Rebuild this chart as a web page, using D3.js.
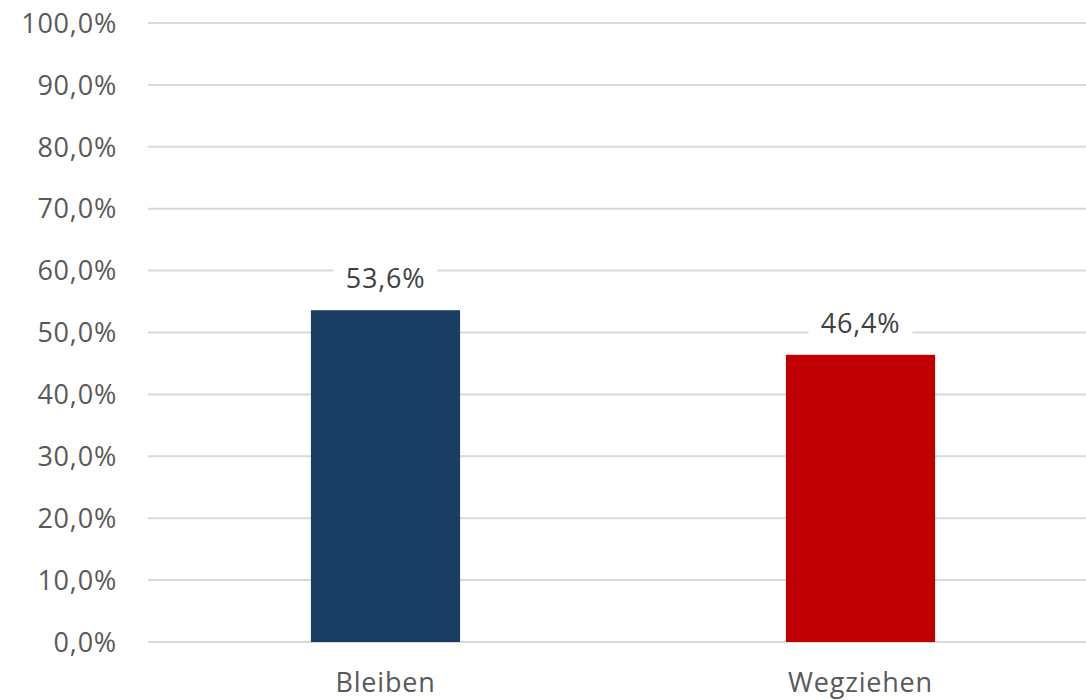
<!DOCTYPE html>
<html>
<head>
<meta charset="utf-8">
<script src="https://cdn.jsdelivr.net/npm/d3@7"></script>
<style>
  body { margin: 0; background: #fff; }
  svg text { font-family: "Open Sans", "Liberation Sans", Arial, sans-serif; letter-spacing: 0.8px; }
</style>
</head>
<body>
<svg id="chart"></svg>
<script>
var categories = ["Bleiben", "Wegziehen"];
var values = [53.6, 46.4];
var barColors = ["#193c62", "#c00000"];
var yTicks = [0, 10, 20, 30, 40, 50, 60, 70, 80, 90, 100];

var width = 1086, height = 700;
var margin = {top: 23, right: -12, bottom: 58, left: 148};

var svg = d3.select("#chart")
  .attr("width", width)
  .attr("height", height);

var fmt = function(v) { return d3.format(".1f")(v).replace(".", ","); };

var x = d3.scaleBand()
  .domain(categories)
  .range([margin.left, width - margin.right])
  .paddingInner(0.686)
  .paddingOuter(0.343);

var y = d3.scaleLinear()
  .domain([0, 100])
  .range([height - margin.bottom, margin.top]);

// gridlines
svg.append("g")
  .selectAll("line")
  .data(yTicks)
  .enter().append("line")
    .attr("x1", margin.left)
    .attr("x2", width)
    .attr("y1", function(d) { return y(d); })
    .attr("y2", function(d) { return y(d); })
    .attr("stroke", "#d9d9d9")
    .attr("stroke-width", 2);

// y axis labels
svg.append("g")
  .selectAll("text")
  .data(yTicks)
  .enter().append("text")
    .attr("x", 117)
    .attr("y", function(d) { return y(d); })
    .attr("dy", "0.36em")
    .attr("text-anchor", "end")
    .attr("font-size", 27)
    .attr("fill", "#595959")
    .text(function(d) { return fmt(d) + "%"; });

// bars
svg.append("g")
  .selectAll("rect")
  .data(values)
  .enter().append("rect")
    .attr("x", function(d, i) { return x(categories[i]); })
    .attr("y", function(d) { return y(d); })
    .attr("width", x.bandwidth())
    .attr("height", function(d) { return y(0) - y(d); })
    .attr("fill", function(d, i) { return barColors[i]; });

// value labels with white boxes
var lab = svg.append("g")
  .selectAll("g")
  .data(values)
  .enter().append("g")
    .attr("transform", function(d, i) {
      return "translate(" + (x(categories[i]) + x.bandwidth() / 2) + "," + (y(d) - 22) + ")";
    });

lab.append("rect")
  .attr("x", -52)
  .attr("y", -27)
  .attr("width", 104)
  .attr("height", 34)
  .attr("fill", "#fff");

lab.append("text")
  .attr("text-anchor", "middle")
  .attr("font-size", 27)
  .attr("fill", "#404040")
  .text(function(d) { return fmt(d) + "%"; });

// category labels
svg.append("g")
  .selectAll("text")
  .data(categories)
  .enter().append("text")
    .attr("x", function(d) { return x(d) + x.bandwidth() / 2; })
    .attr("y", 692)
    .attr("text-anchor", "middle")
    .attr("font-size", 27)
    .attr("fill", "#595959")
    .text(function(d) { return d; });
</script>
</body>
</html>
